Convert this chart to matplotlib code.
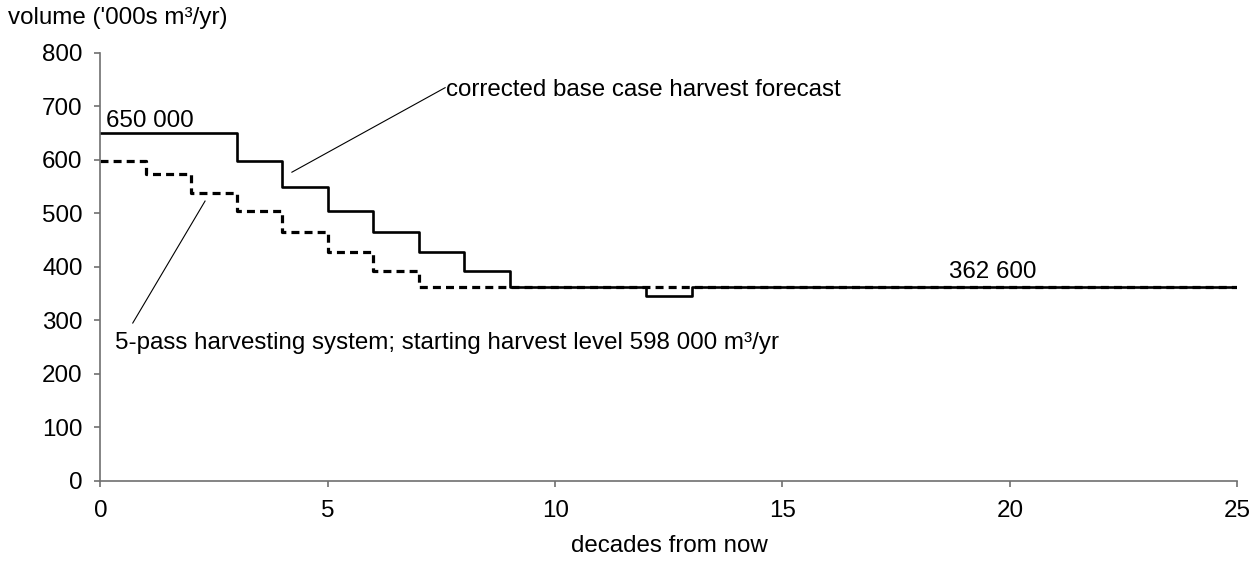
import matplotlib.pyplot as plt

plt.rcParams['font.family'] = ['Liberation Sans', 'DejaVu Sans']

# harvest volume per decade ('000s m3/yr), one value per period starting at decade 0
decades = list(range(26))
base_case = [650, 650, 650, 598, 550, 505, 465, 428, 393, 362.6, 362.6, 362.6, 346,
             362.6, 362.6, 362.6, 362.6, 362.6, 362.6, 362.6, 362.6, 362.6, 362.6, 362.6, 362.6]
five_pass = [598, 574, 538, 505, 465, 428, 393, 362.6, 362.6, 362.6, 362.6, 362.6, 362.6,
             362.6, 362.6, 362.6, 362.6, 362.6, 362.6, 362.6, 362.6, 362.6, 362.6, 362.6, 362.6]

xticks = [0, 5, 10, 15, 20, 25]
yticks = [0, 100, 200, 300, 400, 500, 600, 700, 800]

fs = 17.4

fig = plt.figure(figsize=(12.56, 5.69), dpi=100)
ax = fig.add_axes([0.080, 0.155, 0.905, 0.752])

ax.plot(decades, base_case + [base_case[-1]], drawstyle='steps-post', color='black', lw=1.9)
ax.plot(decades, five_pass + [five_pass[-1]], drawstyle='steps-post', color='black', lw=2.3,
        dashes=(2.5, 1.6))

ax.set_xlim(0, 25)
ax.set_ylim(0, 800)
ax.set_xticks(xticks)
ax.set_yticks(yticks)
for s in ['top', 'right']:
    ax.spines[s].set_visible(False)
for s in ['left', 'bottom']:
    ax.spines[s].set_color('#707070')
    ax.spines[s].set_linewidth(1.2)
ax.tick_params(axis='both', colors='#707070', length=4, width=1.2, labelcolor='black', labelsize=fs)
ax.tick_params(axis='x', pad=10)
ax.tick_params(axis='y', pad=9)

ax.text(0.12, 672, '650 000', fontsize=fs, va='center', ha='left')
ax.text(18.66, 390, '362 600', fontsize=fs, va='center', ha='left')

# leader lines
ax.plot([4.21, 7.58], [577, 735], color='black', lw=0.8)
ax.text(7.61, 731, 'corrected base case harvest forecast', fontsize=fs, va='center', ha='left')
ax.plot([0.71, 2.30], [295, 523], color='black', lw=0.8)
ax.text(0.33, 258, '5-pass harvesting system; starting harvest level 598 000 m³/yr',
        fontsize=fs, va='center', ha='left')

fig.text(0.006, 0.968, "volume ('000s m³/yr)", fontsize=fs, va='center', ha='left')
fig.text(669 / 1256, 0.040, 'decades from now', fontsize=fs, va='center', ha='center')

fig.savefig('out.png', dpi=100)
